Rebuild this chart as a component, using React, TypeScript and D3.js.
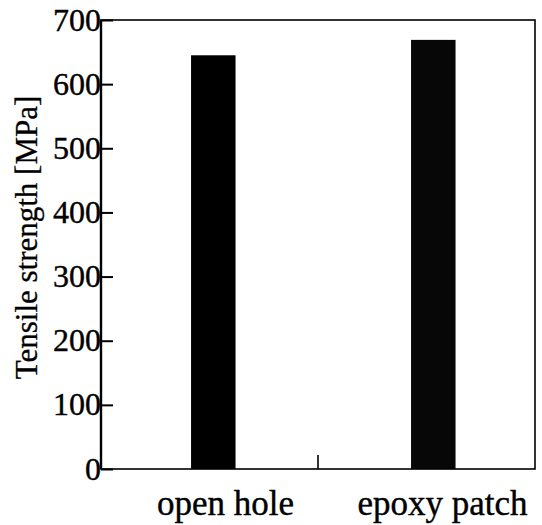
import { useEffect, useRef } from 'react'
import * as d3 from 'd3'

const categories = ['open hole', 'epoxy patch']
const strength = [645, 669]
const yTicks = [0, 100, 200, 300, 400, 500, 600, 700]

export default function App() {
  const svgRef = useRef<SVGSVGElement>(null)

  useEffect(() => {
    const width = 542, height = 525
    const left = 101, right = 535, top = 20, bottom = 469
    const font = 'Liberation Serif'

    const svg = d3.select(svgRef.current)
    svg.selectAll('*').remove()
    svg.attr('width', width).attr('height', height).style('background', '#fff')

    const x = d3.scaleBand<string>().domain(categories).range([left, right]).padding(0)
    const y = d3.scaleLinear().domain([0, 700]).range([bottom, top])
    const bw = x.bandwidth()

    // bars
    svg.selectAll('rect.bar')
      .data(categories)
      .enter()
      .append('rect')
      .attr('class', 'bar')
      .attr('x', (d, i) => x(d)! + bw * 0.415 + i * 3)
      .attr('width', bw * 0.205)
      .attr('y', (d, i) => y(strength[i]))
      .attr('height', (d, i) => y(0) - y(strength[i]))
      .attr('fill', (d, i) => (i === 0 ? '#000' : '#070707'))

    // frame
    svg.append('rect')
      .attr('x', left).attr('y', top)
      .attr('width', right - left).attr('height', bottom - top)
      .attr('fill', 'none').attr('stroke', '#000').attr('stroke-width', 1.6)

    // y axis with inward ticks
    const yAxis = svg.append('g')
      .attr('transform', `translate(${left},0)`)
      .call(d3.axisRight(y).tickValues(yTicks).tickSize(12).tickFormat(() => ''))
    yAxis.select('.domain').attr('stroke-width', 2.4).attr('d', `M0,${top}V${bottom}`)
    yAxis.selectAll('.tick line').attr('stroke', '#000').attr('stroke-width', 2)

    yTicks.forEach(t => {
      svg.append('text')
        .text(t)
        .attr('x', left)
        .attr('y', y(t))
        .attr('dy', '0.33em')
        .attr('text-anchor', 'end')
        .style('font-family', font)
        .attr('font-size', 32)
        .attr('fill', '#000')
        .attr('stroke', '#000').attr('stroke-width', 0.4)
    })

    // x tick between categories
    const mid = x(categories[1])!
    svg.append('line')
      .attr('x1', mid).attr('x2', mid)
      .attr('y1', bottom).attr('y2', bottom - 14)
      .attr('stroke', '#000').attr('stroke-width', 1.6)

    // x labels
    categories.forEach(c => {
      svg.append('text')
        .text(c)
        .attr('x', x(c)! + bw / 2 + 16)
        .attr('y', 515)
        .attr('text-anchor', 'middle')
        .style('font-family', font)
        .attr('font-size', 35)
        .attr('fill', '#000')
        .attr('stroke', '#000').attr('stroke-width', 0.4)
    })

    // y title
    svg.append('text')
      .text('Tensile strength [MPa]')
      .attr('transform', `translate(37, ${(top + bottom) / 2 - 7}) rotate(-90)`)
      .attr('text-anchor', 'middle')
      .style('font-family', font)
      .attr('font-size', 31)
      .attr('fill', '#000')
      .attr('stroke', '#000').attr('stroke-width', 0.3)
  }, [])

  return (
    <div style={{ position: 'absolute', left: 0, top: 0 }}>
      <svg ref={svgRef} style={{ display: 'block' }} />
    </div>
  )
}
